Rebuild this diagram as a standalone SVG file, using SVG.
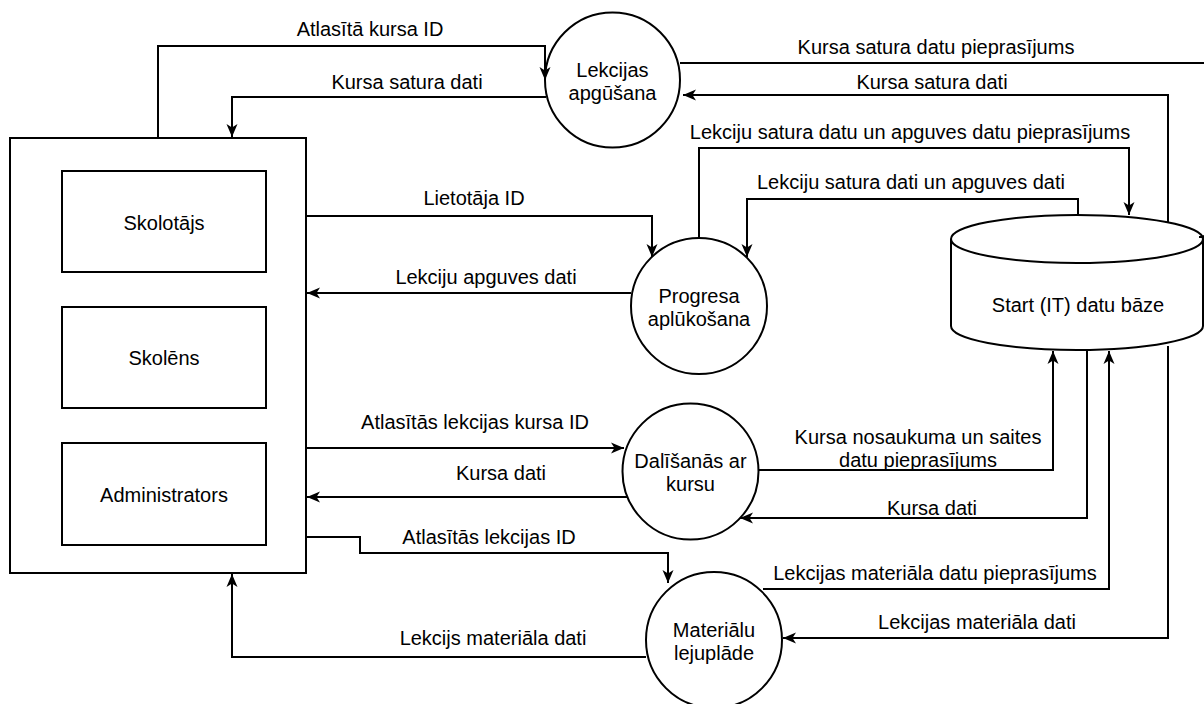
<svg xmlns="http://www.w3.org/2000/svg" width="1204" height="704" viewBox="0 0 1204 704">
<style>
.s{fill:#fff;stroke:#000;stroke-width:2}
.e{fill:none;stroke:#000;stroke-width:2;marker-end:url(#arr)}
text{font-family:"Liberation Sans",Arial,Helvetica,sans-serif;font-size:20px;fill:#000;text-anchor:middle;dominant-baseline:central}
</style>
<defs>
<marker id="arr" markerUnits="userSpaceOnUse" markerWidth="14" markerHeight="12" viewBox="0 0 14 12" refX="13" refY="6" orient="auto">
<path d="M0,0.5 L13,6 L0,11.5 L3.5,6 Z" fill="#000"/>
</marker>
</defs>
<rect width="1204" height="704" fill="#fff"/>

<g id="users">
<rect class="s" x="10" y="138" width="296" height="435"/>
</g>
<g id="skolotajs">
<rect class="s" x="62" y="171" width="204" height="101"/>
<text x="164" y="223">Skolotājs</text>
</g>
<g id="skolens">
<rect class="s" x="62" y="307" width="204" height="101"/>
<text x="164" y="358">Skolēns</text>
</g>
<g id="administrators">
<rect class="s" x="62" y="443" width="204" height="102"/>
<text x="164" y="495">Administrators</text>
</g>

<g id="lekcijas-apgusana">
<circle class="s" cx="612.5" cy="80" r="67.5"/>
<text x="612.5" y="70">Lekcijas</text>
<text x="612.5" y="93">apgūšana</text>
</g>
<g id="progresa-aplukosana">
<circle class="s" cx="699" cy="306" r="68"/>
<text x="699" y="296">Progresa</text>
<text x="699" y="319">aplūkošana</text>
</g>
<g id="dalisanas-ar-kursu">
<circle class="s" cx="690.5" cy="471.5" r="68"/>
<text x="690.5" y="461">Dalīšanās ar</text>
<text x="690.5" y="484">kursu</text>
</g>
<g id="materialu-lejuplade">
<circle class="s" cx="714" cy="640" r="68"/>
<text x="714" y="630">Materiālu</text>
<text x="714" y="653">lejuplāde</text>
</g>
<g id="datu-baze">
<path class="s" d="M951,239 A126,24 0 0 1 1203,239 L1203,326 A126,24 0 0 1 951,326 Z"/>
<path class="s" fill="none" d="M951,239 A126,24 0 0 0 1203,239"/>
<text x="1078" y="305">Start (IT) datu bāze</text>
</g>

<g id="connectors">
<path class="e" d="M158,138 V46 H545 V80"/>
<path class="e" d="M546,97 H232 V137"/>
<path class="e" d="M680,63 H1216 V237 H1199"/>
<path class="e" d="M1168,222 V95 H683"/>
<path class="e" d="M699,238 V148 H1129 V215"/>
<path class="e" d="M1078,215 V199 H747 V257"/>
<path class="e" d="M306,216 H652 V257"/>
<path class="e" d="M631,293 H307"/>
<path class="e" d="M306,448 H624"/>
<path class="e" d="M627,497 H307"/>
<path class="e" d="M306,537 H360 V553 H668 V583"/>
<path class="e" d="M646,657 H232 V574"/>
<path class="e" d="M758,470 H1053 V351"/>
<path class="e" d="M1087,350 V518 H740"/>
<path class="e" d="M763,589 H1109 V351"/>
<path class="e" d="M1168,346 V638 H783"/>
<text x="370" y="29">Atlasītā kursa ID</text>
<text x="407" y="82">Kursa satura dati</text>
<text x="936" y="47">Kursa satura datu pieprasījums</text>
<text x="932" y="82">Kursa satura dati</text>
<text x="910" y="132">Lekciju satura datu un apguves datu pieprasījums</text>
<text x="911" y="182">Lekciju satura dati un apguves dati</text>
<text x="474" y="198">Lietotāja ID</text>
<text x="486" y="277">Lekciju apguves dati</text>
<text x="475" y="422">Atlasītās lekcijas kursa ID</text>
<text x="501" y="473">Kursa dati</text>
<text x="489" y="537">Atlasītās lekcijas ID</text>
<text x="493" y="638">Lekcijs materiāla dati</text>
<text x="918" y="437">Kursa nosaukuma un saites</text>
<text x="918" y="460">datu pieprasījums</text>
<text x="932" y="508">Kursa dati</text>
<text x="935" y="573">Lekcijas materiāla datu pieprasījums</text>
<text x="977" y="622">Lekcijas materiāla dati</text>
</g>
</svg>
